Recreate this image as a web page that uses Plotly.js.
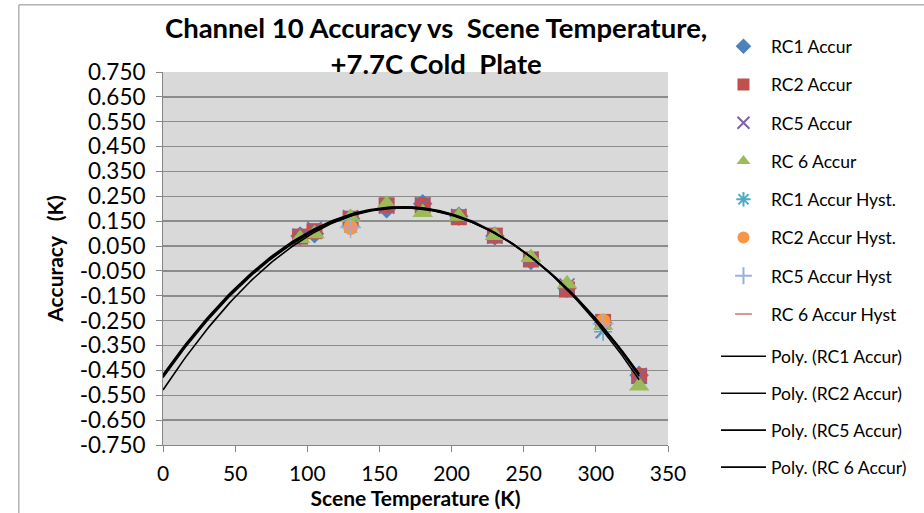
<!DOCTYPE html>
<html>
<head>
<meta charset="utf-8">
<script src="https://cdn.plot.ly/plotly-3.0.1.min.js"></script>
<style>
  html, body { margin: 0; padding: 0; background: #ffffff; }
  #chart { width: 924px; height: 513px; }
</style>
</head>
<body>
<div id="chart"></div>
<script>
// ---- Data ----
const temps = [95, 105, 130, 155, 180, 205, 230, 255, 280, 305, 330];
const rc1Accur = [0.090, 0.100, 0.160, 0.200, 0.220, 0.170, 0.090, -0.008, -0.120, -0.260, -0.470];
const rc2Accur = [0.088, 0.110, 0.160, 0.214, 0.214, 0.166, 0.092, -0.004, -0.125, -0.255, -0.473];
const rc5Accur = [0.090, 0.120, 0.165, 0.210, 0.215, 0.170, 0.090, -0.002, -0.110, -0.290, -0.470];
const rc6Accur = [0.080, 0.100, 0.165, 0.218, 0.185, 0.170, 0.092, 0.004, -0.102, -0.268, -0.513];

const hystTemps = [130, 305];
const rc1Hyst = [0.130, -0.295];
const rc2Hyst = [0.125, -0.252];
const rc5Hyst = [0.125, -0.262];
const rc6Hyst = [0.125, -0.272];

const xTickVals = [0, 50, 100, 150, 200, 250, 300, 350];
const yTickVals = [0.75, 0.65, 0.55, 0.45, 0.35, 0.25, 0.15, 0.05, -0.05, -0.15, -0.25, -0.35, -0.45, -0.55, -0.65, -0.75];
const yTickText = ["0.750", "0.650", "0.550", "0.450", "0.350", "0.250", "0.150", "0.050", "-0.050", "-0.150", "-0.250", "-0.350", "-0.450", "-0.550", "-0.650", "-0.750"];

const titleText = "Channel 10 Accuracy vs  Scene Temperature,<br>+7.7C Cold  Plate";

// ---- Quadratic least-squares trendline (like Excel "Poly." order 2, forecast back to 0) ----
function polyFit2(xs, ys) {
  let s0 = xs.length, s1 = 0, s2 = 0, s3 = 0, s4 = 0, t0 = 0, t1 = 0, t2 = 0;
  for (let i = 0; i < xs.length; i++) {
    const x = xs[i], y = ys[i];
    s1 += x; s2 += x * x; s3 += x * x * x; s4 += x * x * x * x;
    t0 += y; t1 += x * y; t2 += x * x * y;
  }
  const M = [[s0, s1, s2, t0], [s1, s2, s3, t1], [s2, s3, s4, t2]];
  for (let c = 0; c < 3; c++) {
    for (let r = c + 1; r < 3; r++) {
      const f = M[r][c] / M[c][c];
      for (let k = c; k < 4; k++) M[r][k] -= f * M[c][k];
    }
  }
  const b = [0, 0, 0];
  for (let r = 2; r >= 0; r--) {
    let s = M[r][3];
    for (let k = r + 1; k < 3; k++) s -= M[r][k] * b[k];
    b[r] = s / M[r][r];
  }
  return b; // y = b0 + b1 x + b2 x^2
}
function trend(xs, ys) {
  const b = polyFit2(xs, ys);
  const xmax = Math.max.apply(null, xs);
  const tx = [], ty = [];
  for (let x = 0; x <= xmax + 1e-9; x += 2) {
    tx.push(x); ty.push(b[0] + b[1] * x + b[2] * x * x);
  }
  return { x: tx, y: ty };
}

const FONT = "Lato, 'Open Sans', sans-serif";

function markerTrace(name, xs, ys, symbol, color, size, open, lw) {
  return {
    type: 'scatter', mode: 'markers', name: name, x: xs, y: ys,
    legend: 'legend', legendgroup: name,
    marker: open
      ? { symbol: symbol, size: size, color: color, line: { color: color, width: lw || 1.5 } }
      : { symbol: symbol, size: size, color: color, line: { width: 0 } },
    hoverinfo: 'x+y+name'
  };
}
function lineTrace(name, xs, ys) {
  const t = trend(xs, ys);
  return {
    type: 'scatter', mode: 'lines', name: name, x: t.x, y: t.y,
    legend: 'legend2', legendgroup: name,
    line: { color: '#000000', width: 1.6 },
    hoverinfo: 'skip'
  };
}

const traces = [
  markerTrace('RC1 Accur', temps, rc1Accur, 'diamond', '#4F81BD', 15),
  markerTrace('RC2 Accur', temps, rc2Accur, 'square', '#C0504D', 16),
  markerTrace('RC5 Accur', temps, rc5Accur, 'x-thin-open', '#8064A2', 15, true, 1.5),
  markerTrace('RC 6 Accur', temps, rc6Accur, 'triangle-up', '#9BBB59', 18),
  markerTrace('RC1 Accur Hyst.', hystTemps, rc1Hyst, 'asterisk-open', '#4BACC6', 15, true, 1.5),
  markerTrace('RC2 Accur Hyst.', hystTemps, rc2Hyst, 'circle', '#F79646', 15),
  markerTrace('RC5 Accur Hyst', hystTemps, rc5Hyst, 'cross-thin-open', '#95B3D7', 15, true, 1.5),
  markerTrace('RC 6 Accur Hyst', hystTemps, rc6Hyst, 'line-ew-open', '#D99694', 9, true, 3),
  lineTrace('Poly. (RC1 Accur)', temps, rc1Accur),
  lineTrace('Poly. (RC2 Accur)', temps, rc2Accur),
  lineTrace('Poly. (RC5 Accur)', temps, rc5Accur),
  lineTrace('Poly. (RC 6 Accur)', temps, rc6Accur)
];

const legendCommon = {
  x: 1.095, xanchor: 'left', yanchor: 'top',
  bgcolor: 'rgba(0,0,0,0)',
  font: { family: FONT, size: 17.5, color: '#000000' },
  traceorder: 'grouped',
  tracegroupgap: 12.5,
  itemwidth: 45,
  maxheight: 505
};

const layout = {
  width: 924, height: 513,
  margin: { l: 163, r: 253, t: 72, b: 68 },
  paper_bgcolor: '#ffffff',
  plot_bgcolor: '#D9D9D9',
  font: { family: FONT, color: '#000000', size: 18 },
  title: {
    text: titleText,
    font: { family: FONT, size: 27.5, color: '#000000', weight: 'bold' },
    xref: 'container', yref: 'container',
    x: 0.472, xanchor: 'center',
    y: 0.925, yanchor: 'top'
  },
  xaxis: {
    range: [0, 350],
    tickvals: xTickVals,
    ticks: 'outside', ticklen: 6, tickcolor: '#868686', tickwidth: 1,
    showline: true, linecolor: '#868686', linewidth: 1,
    showgrid: false, zeroline: false,
    ticklabelstandoff: 4,
    tickfont: { family: FONT, size: 21, color: '#000000' },
    title: { text: 'Scene Temperature (K)', font: { family: FONT, size: 21, weight: 'bold', color: '#000000' }, standoff: 0 },
    fixedrange: true
  },
  yaxis: {
    range: [-0.75, 0.75],
    tickvals: yTickVals, ticktext: yTickText,
    ticks: 'outside', ticklen: 6, tickcolor: '#868686', tickwidth: 1,
    showline: true, linecolor: '#868686', linewidth: 1,
    showgrid: true, gridcolor: '#8C8C8C', gridwidth: 1.5,
    zeroline: false,
    ticklabelstandoff: 6,
    tickfont: { family: FONT, size: 22.5, color: '#000000' },
    title: { text: 'Accuracy   (K)', font: { family: FONT, size: 21, weight: 'bold', color: '#000000' }, standoff: 10 },
    fixedrange: true
  },
  showlegend: true,
  legend: Object.assign({}, legendCommon, { y: 1.117, itemsizing: 'constant' }),
  legend2: Object.assign({}, legendCommon, { y: 0.2858, itemsizing: 'trace', tracegroupgap: 11.2 }),
  shapes: [
    { type: 'rect', xref: 'paper', yref: 'paper',
      x0: -0.2854, x1: 1.7, y0: -0.4, y1: 1.18,
      line: { color: '#8C8C8C', width: 1 }, fillcolor: 'rgba(0,0,0,0)', layer: 'below' }
  ]
};

Plotly.newPlot('chart', traces, layout, { displayModeBar: false, staticPlot: true });
</script>
</body>
</html>
